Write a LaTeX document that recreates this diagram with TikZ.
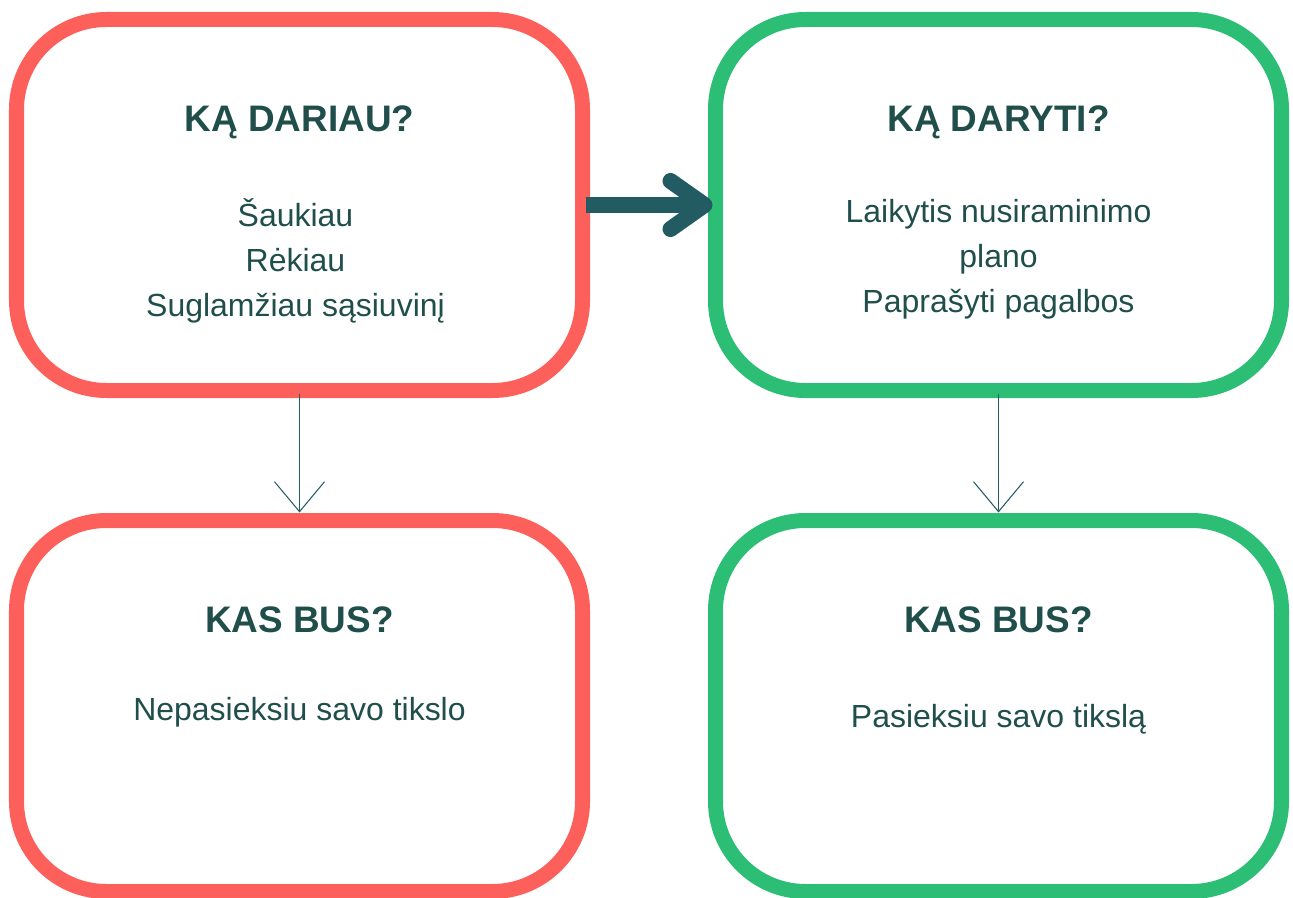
\documentclass[tikz,border=0pt]{standalone}
\usepackage{fontspec}
\setmainfont{Liberation Sans}
\usepackage{xcolor}
\usetikzlibrary{positioning,arrows.meta}
\definecolor{boxred}{RGB}{253,96,90}
\definecolor{boxgreen}{RGB}{45,190,118}
\definecolor{ink}{RGB}{31,78,75}
\definecolor{arrowteal}{RGB}{35,91,98}
\tikzset{%
box/.style={draw,rectangle,rounded corners=1.8cm,line width=0.3cm,minimum width=11.32cm,minimum height=7.42cm,outer sep=0pt,inner sep=0pt},
redbox/.style={box,draw=boxred},
greenbox/.style={box,draw=boxgreen},
heading/.style={anchor=base,text=ink,font=\bfseries\fontsize{21pt}{24pt}\selectfont},
bodytext/.style={anchor=base,align=center,text=ink,font=\fontsize{18.2pt}{25.6pt}\selectfont},
thinarrow/.style={draw=arrowteal,line width=0.6pt,-{Straight Barb[length=0.6cm,width=1cm]}},
bigarrow/.style={draw=arrowteal,line width=0.32cm,-{Straight Barb[round,length=0.68cm,width=0.96cm]}}
}

\begin{document}
\begin{tikzpicture}

  \useasboundingbox (0,0) rectangle (25.86,-17.96);

  \node[redbox] (did) at (5.99,-4.1) {};
  \node[greenbox,right=2.66cm of did] (todo) {};
  \node[redbox,below=2.6cm of did] (badend) {};
  \node[greenbox,below=2.6cm of todo] (goodend) {};

  % base of a multi-line node sits on its last line
  \node[heading] (didhead) at ([yshift=-2.24cm]did.north) {KĄ DARIAU?};
  \node[bodytext] (didtext) at ([xshift=-0.08cm,yshift=-5.94cm]did.north)
    {Šaukiau\\Rėkiau\\Suglamžiau sąsiuvinį};

  \node[heading] (todohead) at ([yshift=-2.24cm]todo.north) {KĄ DARYTI?};
  \node[bodytext] (todotext) at ([yshift=-5.86cm]todo.north)
    {Laikytis nusiraminimo\\plano\\Paprašyti pagalbos};

  \node[heading] (badhead) at ([yshift=-2.24cm]badend.north) {KAS BUS?};
  \node[bodytext] (badtext) at ([yshift=-4.0cm]badend.north)
    {Nepasieksiu savo tikslo};

  \node[heading] (goodhead) at ([yshift=-2.24cm]goodend.north) {KAS BUS?};
  \node[bodytext] (goodtext) at ([yshift=-4.14cm]goodend.north)
    {Pasieksiu savo tikslą};

  \draw[thinarrow,shorten <=0.06cm,shorten >=0.16cm] (did.south) -- (badend.north);
  \draw[thinarrow,shorten <=0.06cm,shorten >=0.16cm] (todo.south) -- (goodend.north);
  \draw[bigarrow,shorten <=0.06cm,shorten >=0.06cm] (did.east) -- (todo.west);

\end{tikzpicture}
\end{document}
